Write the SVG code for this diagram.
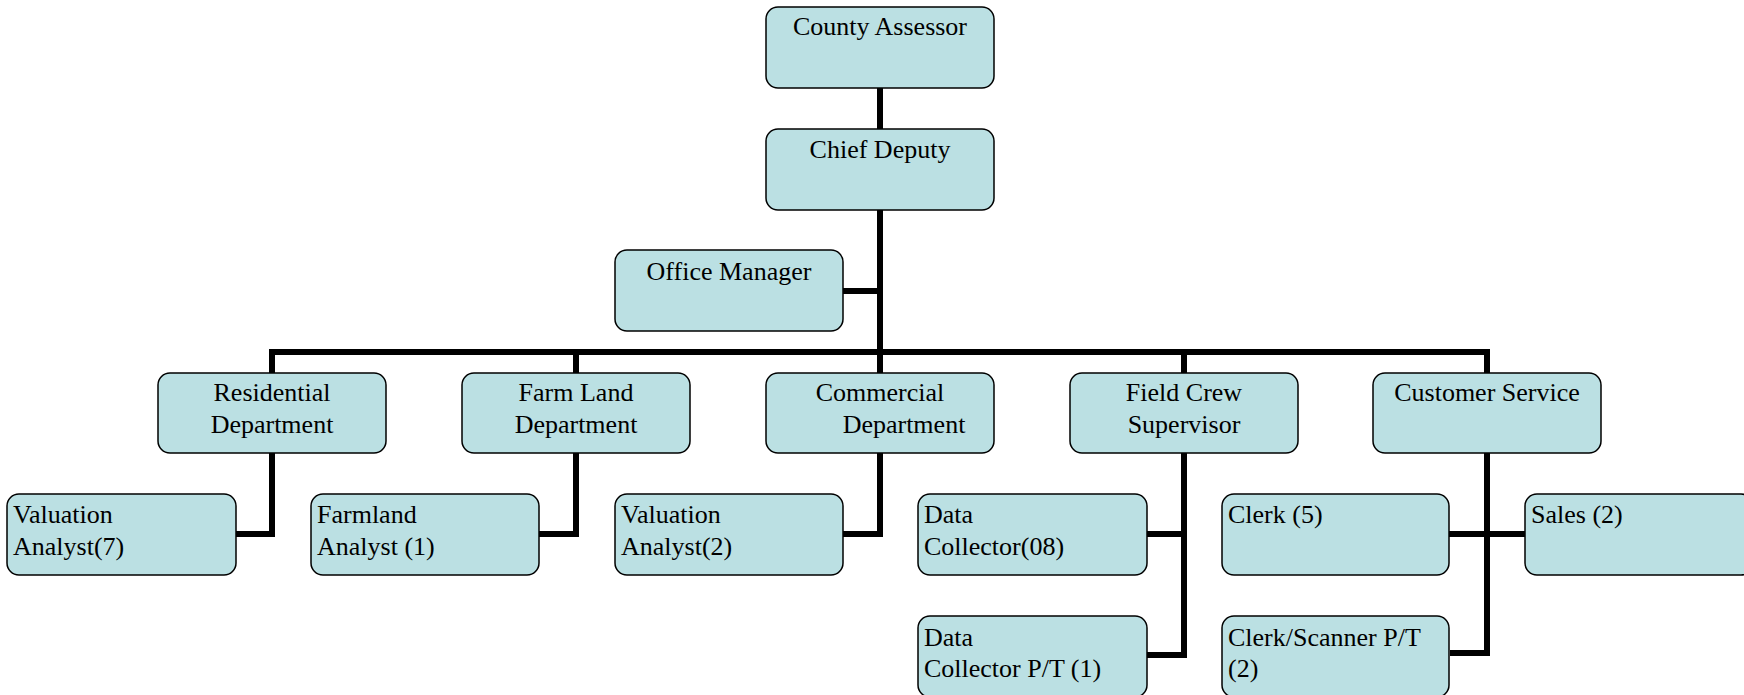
<svg xmlns="http://www.w3.org/2000/svg" width="1744" height="695" viewBox="0 0 1744 695">
<style>
.box{fill:#BBE0E3;stroke:#000;stroke-width:1.5}
.t{font-family:"Liberation Serif","Times New Roman",serif;font-size:26px;fill:#000}
.c{text-anchor:middle}
.con{fill:none;stroke:#000;stroke-width:6;stroke-linejoin:miter}
</style>
<rect width="1744" height="695" fill="#fff"/>
<g id="connectors">
<path class="con" d="M880 88V129"/>
<path class="con" d="M880 210V373"/>
<path class="con" d="M843 291H880"/>
<path class="con" d="M272 373V352H1487V373"/>
<path class="con" d="M576 352V373"/>
<path class="con" d="M1184 352V373"/>
<path class="con" d="M272 453V534H236"/>
<path class="con" d="M576 453V534H539"/>
<path class="con" d="M880 453V534H843"/>
<path class="con" d="M1184 453V655H1147"/>
<path class="con" d="M1147 534H1184"/>
<path class="con" d="M1487 453V653H1450"/>
<path class="con" d="M1449 534H1525"/>
</g>
<g id="county-assessor"><rect class="box" x="766" y="7" width="228" height="81" rx="12"/><text class="t c" x="880" y="35">County Assessor</text></g>
<g id="chief-deputy"><rect class="box" x="766" y="129" width="228" height="81" rx="12"/><text class="t c" x="880" y="158">Chief Deputy</text></g>
<g id="office-manager"><rect class="box" x="615" y="250" width="228" height="81" rx="12"/><text class="t c" x="729" y="280">Office Manager</text></g>
<g id="residential"><rect class="box" x="158" y="373" width="228" height="80" rx="12"/><text class="t c" x="272" y="401">Residential</text><text class="t c" x="272" y="433">Department</text></g>
<g id="farm-land"><rect class="box" x="462" y="373" width="228" height="80" rx="12"/><text class="t c" x="576" y="401">Farm Land</text><text class="t c" x="576" y="433">Department</text></g>
<g id="commercial"><rect class="box" x="766" y="373" width="228" height="80" rx="12"/><text class="t c" x="880" y="401">Commercial</text><text class="t c" x="904" y="433">Department</text></g>
<g id="field-crew"><rect class="box" x="1070" y="373" width="228" height="80" rx="12"/><text class="t c" x="1184" y="401">Field Crew</text><text class="t c" x="1184" y="433">Supervisor</text></g>
<g id="customer-service"><rect class="box" x="1373" y="373" width="228" height="80" rx="12"/><text class="t c" x="1487" y="401">Customer Service</text></g>
<g id="valuation-7"><rect class="box" x="7" y="494" width="229" height="81" rx="12"/><text class="t" x="13" y="523">Valuation</text><text class="t" x="13" y="555">Analyst(7)</text></g>
<g id="farmland-analyst"><rect class="box" x="311" y="494" width="228" height="81" rx="12"/><text class="t" x="317" y="523">Farmland</text><text class="t" x="317" y="555">Analyst (1)</text></g>
<g id="valuation-2"><rect class="box" x="615" y="494" width="228" height="81" rx="12"/><text class="t" x="621" y="523">Valuation</text><text class="t" x="621" y="555">Analyst(2)</text></g>
<g id="data-collector"><rect class="box" x="918" y="494" width="229" height="81" rx="12"/><text class="t" x="924" y="523">Data</text><text class="t" x="924" y="555">Collector(08)</text></g>
<g id="clerk"><rect class="box" x="1222" y="494" width="227" height="81" rx="12"/><text class="t" x="1228" y="523">Clerk (5)</text></g>
<g id="sales"><rect class="box" x="1525" y="494" width="228" height="81" rx="12"/><text class="t" x="1531" y="523">Sales (2)</text></g>
<g id="data-collector-pt"><rect class="box" x="918" y="616" width="229" height="81" rx="12"/><text class="t" x="924" y="646">Data</text><text class="t" x="924" y="677">Collector P/T (1)</text></g>
<g id="clerk-scanner"><rect class="box" x="1222" y="616" width="227" height="81" rx="12"/><text class="t" x="1228" y="646">Clerk/Scanner P/T</text><text class="t" x="1228" y="677">(2)</text></g>
</svg>
